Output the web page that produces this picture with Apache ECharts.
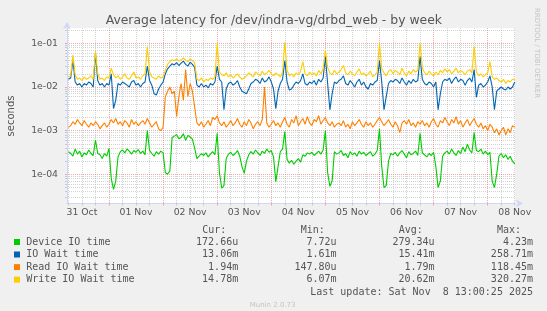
<!DOCTYPE html>
<html><head><meta charset="utf-8">
<script src="https://cdn.jsdelivr.net/npm/echarts@6/dist/echarts.min.js"></script>
<style>html,body{margin:0;padding:0;background:#f0f0f0}#c{width:547px;height:311px}</style>
</head><body><div id="c"></div>
<script>
// ---------- data ----------
const chartTitle = 'Average latency for /dev/indra-vg/drbd_web - by week';
const yAxisName = 'seconds';
const dayLabels = ['31 Oct','01 Nov','02 Nov','03 Nov','04 Nov','05 Nov','06 Nov','07 Nov','08 Nov'];
const dayNoonHours = [12,36,60,84,108,132,156,180,204];      // hours since 31 Oct 00:00
const dayStartHours = [24,48,72,96,120,144,168,192];
const decadeExps = [-4,-3,-2,-1];
const decadeLabels = ['1e-04','1e-03','1e-02','1e-01'];
const seriesNames = ['Device IO time','IO Wait time','Read IO Wait time','Write IO Wait time'];
const seriesColors = ['#00CC00','#0066B3','#FF8000','#FFCC00'];
const firstHour = 6, stepHours = 1;   // samples: hourly, starting 31 Oct 06:00

// values in milliseconds
const deviceMs = [
0.33,0.30,0.26,0.38,0.29,0.34,0.25,0.31,0.28,0.36,0.30,0.27,
0.61,0.30,0.28,0.23,0.30,0.26,0.39,0.08,0.045,0.07,0.25,0.33,
0.36,0.31,0.38,0.34,0.29,0.35,0.32,0.37,0.30,0.34,0.28,1.0,
0.35,0.30,0.26,0.33,0.29,0.34,0.31,0.11,0.10,0.12,0.70,0.75,
0.82,0.65,0.70,0.85,0.60,0.78,0.72,0.64,0.40,0.23,0.26,0.30,
0.27,0.31,0.25,0.29,0.33,0.28,0.87,0.11,0.048,0.055,0.23,0.29,
0.32,0.27,0.30,0.35,0.26,0.15,0.105,0.20,0.28,0.33,0.29,0.36,
0.31,0.27,0.34,0.30,0.38,0.32,0.35,0.25,0.068,0.15,0.33,0.38,
0.95,0.22,0.18,0.21,0.17,0.20,0.23,0.19,0.28,0.26,0.31,0.29,
0.32,0.27,0.30,0.34,0.29,0.36,1.0,0.11,0.053,0.07,0.33,0.29,
0.31,0.35,0.27,0.30,0.24,0.33,0.28,0.31,0.26,0.34,0.29,0.32,
0.27,0.30,0.33,0.26,0.29,0.35,1.1,0.15,0.05,0.055,0.20,0.30,
0.28,0.32,0.26,0.31,0.35,0.29,0.24,0.33,0.28,0.30,0.34,0.27,
0.87,0.31,0.28,0.25,0.30,0.27,0.32,0.15,0.05,0.07,0.26,0.31,
0.34,0.29,0.38,0.31,0.27,0.35,0.30,0.42,0.33,0.49,0.36,0.31,
0.90,0.35,0.33,0.38,0.29,0.34,0.28,0.32,0.07,0.05,0.10,0.26,
0.30,0.24,0.28,0.22,0.26,0.20,0.17266];
const ioWaitMs = [
15,16,40,13,11,12,10,12,11,13,12,10,
60,14,11,12,10,12,11,20,3.2,5,12,11,
13,12,11,10,13,14,11,12,10,12,13,30,
14,11,7,6.5,9,11,13,20,26,30,34,32,
36,31,35,39,33,30,37,33,28,11,10,12,
10,11,9.5,12,11,13,30,15,13,3,9,12,
13,11,12,14,10,8,7.5,7,9,12,13,15,
14,12,16,13,14,17,13,9,3.2,8,12,15,
40,13,8.5,9,11,13,12,14,20,12,11,13,
12,14,11,15,13,16,50,12,3,7,13,12,
14,15,18,12,11,14,12,10,13,15,11,13,
10,9,12,11,13,14,40,13,3,6,12,14,
13,15,14,12,16,13,11,14,12,15,13,14,
50,15,12,11,13,12,10,13,3,7,13,15,
14,16,12,15,17,13,15,14,11,14,16,13,
25,5.8,11,12,10,11,13,18,10,3,8,9,
10,9,8.5,10,9,10,13.06];
const readWaitMs = [
1.2,1.3,1.6,1.4,1.8,1.5,1.3,1.7,1.4,1.2,1.5,1.3,
1.6,1.4,1.1,1.3,1.5,1.2,1.4,1.8,1.5,1.9,1.4,1.6,
1.3,1.7,1.5,1.2,1.8,1.4,1.6,1.3,1.5,1.7,1.4,1.9,
1.5,1.2,1.4,1.6,1.1,1.0,1.2,6.0,8.0,10,7.0,8.0,
2.1,6.0,12,5.0,25,6.0,12,8.0,3.5,1.5,1.3,1.6,
1.2,1.4,1.7,1.3,2.0,1.8,2.2,1.5,1.3,1.6,1.2,1.4,
1.7,1.3,1.5,1.9,1.4,1.2,1.6,1.3,1.8,1.5,1.1,1.4,
1.6,1.3,1.8,10,1.5,1.2,1.4,1.7,1.3,1.5,1.2,1.6,
2.0,1.4,1.2,1.8,1.5,2.2,1.3,1.6,1.9,1.4,2.1,1.5,
1.3,1.8,1.6,2.2,1.4,1.7,2.0,1.5,1.3,1.6,1.2,1.4,
1.5,1.3,1.7,1.2,1.4,1.1,1.6,1.3,1.5,1.8,1.4,1.2,
1.6,1.3,1.5,1.2,1.4,1.7,2.0,1.6,1.3,1.5,1.8,1.4,
1.2,1.6,1.3,0.9,1.5,1.7,1.4,1.8,1.3,1.5,1.2,1.6,
1.4,1.7,1.3,1.5,1.2,1.6,1.9,1.4,1.2,1.7,1.5,2.0,
1.6,1.3,1.8,1.5,2.1,1.4,1.7,1.2,1.5,1.8,1.3,1.6,
1.9,1.4,1.2,1.5,1.1,1.3,1.0,1.4,1.2,0.9,1.1,0.8,
1.0,1.2,0.8,1.1,0.9,1.3,1.2];
const writeWaitMs = [
17,18,54,19,15,16,14,17,15,16,18,15,
66,20,15,16,14,17,16,27,19,16,18,15,
17,20,16,15,18,22,16,17,15,18,20,84,
22,17,16,15,18,16,17,24,33,38,42,40,
44,39,42,46,41,38,44,40,36,15,14,16,
13,15,14,16,15,17,100,22,19,18,21,17,
19,16,18,20,17,15,16,18,21,19,17,22,
20,18,23,19,21,24,20,18,21,19,17,22,
105,24,18,20,17,21,19,23,38,20,18,22,
19,21,18,24,20,26,70,28,21,19,24,20,
22,25,31,21,19,23,20,18,22,26,19,21,
18,20,23,17,19,22,100,26,21,18,23,25,
20,24,22,19,27,21,18,23,20,25,22,24,
100,28,21,19,23,20,18,22,19,24,21,26,
22,25,20,23,27,21,24,22,19,23,25,21,
84,22,18,20,17,19,21,38,17,15,16,14,
13,15,12,14,13,15,14.78];

const statHeaders = ['Cur:','Min:','Avg:','Max:'];
const statCur = ['172.66u','13.06m','1.94m','14.78m'];
const statMin = ['7.72u','1.61m','147.80u','6.07m'];
const statAvg = ['279.34u','15.41m','1.79m','20.62m'];
const statMax = ['4.23m','258.71m','118.45m','320.27m'];
const lastUpdate = 'Last update: Sat Nov  8 13:00:25 2025';
const footer = 'Munin 2.0.73';
const sideText = 'RRDTOOL / TOBI OETIKER';

// ---------- chart ----------
const X_MIN = 5.37, X_MAX = 204.12;
const Y_MIN_EXP = -4.668, Y_MAX_EXP = -0.65;
const GRID = 'rgba(150,150,150,0.42)';
const MGRID = 'rgba(225,90,90,0.5)';
const AXIS = '#CFD6F8';
const FONT = '#555555';

const minorHours = [];
for (let h = 6; h <= 204; h += 6) if (h % 24 !== 0) minorHours.push(h);
const minorExps = [];
for (let k = -5; k <= -1; k++) for (let m = 2; m <= 9; m++) {
  const e = Math.log10(m) + k;
  if (e >= Y_MIN_EXP && e <= Y_MAX_EXP) minorExps.push(e);
}

const seriesValues = [deviceMs, ioWaitMs, readWaitMs, writeWaitMs];
const series = seriesValues.map((arr, s) => ({
  name: seriesNames[s], type: 'line', xAxisIndex: 0, yAxisIndex: 0,
  showSymbol: false, symbol: 'none', clip: true,
  lineStyle: { width: 1.1, color: seriesColors[s] }, itemStyle: { color: seriesColors[s] },
  data: arr.map((v, i) => [firstHour + i * stepHours, v / 1000])
}));

const graphic = [
  { type: 'text', x: 273.8, y: 21, style: { text: chartTitle, fill: FONT, font: '12.4px "DejaVu Sans"', align: 'center', verticalAlign: 'middle' } },
  { type: 'text', x: 11, y: 116, rotation: Math.PI / 2, style: { text: yAxisName, fill: FONT, font: '10px "DejaVu Sans"', align: 'center', verticalAlign: 'middle' } },
  { type: 'text', x: 537, y: 53, rotation: -Math.PI / 2, style: { text: sideText, fill: '#c4c4c4', font: '7px "DejaVu Sans"', align: 'center', verticalAlign: 'middle' } },
  { type: 'text', x: 272.6, y: 305, style: { text: footer, fill: '#c4c4c4', font: '7px "DejaVu Sans"', align: 'center', verticalAlign: 'middle' } },
  { type: 'text', x: 533, y: 292.2, style: { text: lastUpdate, fill: FONT, font: '10px "DejaVu Sans Mono"', align: 'right', verticalAlign: 'middle' } }
];
const headerLeft = [202.3, 300.7, 398.7, 497];
const colRight = [238.2, 336.6, 434.6, 533];
statHeaders.forEach((t, c) => graphic.push({ type: 'text', x: headerLeft[c], y: 230.1, style: { text: t, fill: FONT, font: '10px "DejaVu Sans Mono"', align: 'left', verticalAlign: 'middle' } }));
const cols = [statCur, statMin, statAvg, statMax];
const rowY = [242, 254.5, 267.1, 279.6];
seriesNames.forEach((n, r) => {
  graphic.push({ type: 'rect', shape: { x: 14, y: rowY[r] - 3, width: 6, height: 6 }, style: { fill: seriesColors[r] } });
  graphic.push({ type: 'text', x: 26.2, y: rowY[r], style: { text: n, fill: FONT, font: '10px "DejaVu Sans Mono"', align: 'left', verticalAlign: 'middle' } });
  cols.forEach((col, c) => graphic.push({ type: 'text', x: colRight[c], y: rowY[r], style: { text: col[r], fill: FONT, font: '10px "DejaVu Sans Mono"', align: 'right', verticalAlign: 'middle' } }));
});

const chart = echarts.init(document.getElementById('c'), null, { renderer: 'canvas' });
chart.setOption({
  backgroundColor: '#f0f0f0',
  animation: false,
  grid: { left: 67, right: 32, top: 28, bottom: 107.5, show: true, backgroundColor: '#ffffff', borderWidth: 0 },
  xAxis: [
    { type: 'value', min: X_MIN, max: X_MAX, position: 'bottom',
      axisLine: { show: true, onZero: false, lineStyle: { color: AXIS, width: 1 }, symbol: ['none', 'arrow'], symbolSize: [6, 7], symbolOffset: [0, 8] },
      axisTick: { show: true, customValues: minorHours, length: 2, inside: false, lineStyle: { color: GRID } },
      splitLine: { show: true, lineStyle: { color: GRID, type: [1, 1], width: 1 } },
      axisLabel: { show: true, customValues: dayNoonHours, formatter: v => dayLabels[dayNoonHours.indexOf(v)], color: FONT, fontFamily: 'DejaVu Sans', fontSize: 9.3, margin: 5 } },
    { type: 'value', min: X_MIN, max: X_MAX, position: 'bottom',
      axisLine: { show: false, onZero: false },
      axisTick: { show: true, customValues: dayStartHours, length: 2, lineStyle: { color: MGRID } },
      splitLine: { show: true, lineStyle: { color: MGRID, type: [1, 1], width: 1 } },
      axisLabel: { show: false } }
  ],
  yAxis: [
    { type: 'log', min: Math.pow(10, Y_MIN_EXP), max: Math.pow(10, Y_MAX_EXP), show: false },
    { type: 'value', min: Y_MIN_EXP, max: Y_MAX_EXP, position: 'left',
      axisLine: { show: true, onZero: false, lineStyle: { color: AXIS, width: 1 }, symbol: ['none', 'arrow'], symbolSize: [6, 7], symbolOffset: [0, 6] },
      axisTick: { show: true, customValues: minorExps, length: 2, lineStyle: { color: GRID } },
      splitLine: { show: true, lineStyle: { color: GRID, type: [1, 1], width: 1 } },
      axisLabel: { show: false } },
    { type: 'value', min: Y_MIN_EXP, max: Y_MAX_EXP, position: 'left',
      axisLine: { show: false, onZero: false },
      axisTick: { show: true, customValues: decadeExps, length: 2, lineStyle: { color: MGRID } },
      splitLine: { show: true, lineStyle: { color: MGRID, type: [1, 1], width: 1 } },
      axisLabel: { show: true, customValues: decadeExps, formatter: v => decadeLabels[decadeExps.indexOf(v)], color: FONT, fontFamily: 'DejaVu Sans', fontSize: 9.3, margin: 9 } }
  ],
  graphic: graphic,
  series: series
});
</script></body></html>
